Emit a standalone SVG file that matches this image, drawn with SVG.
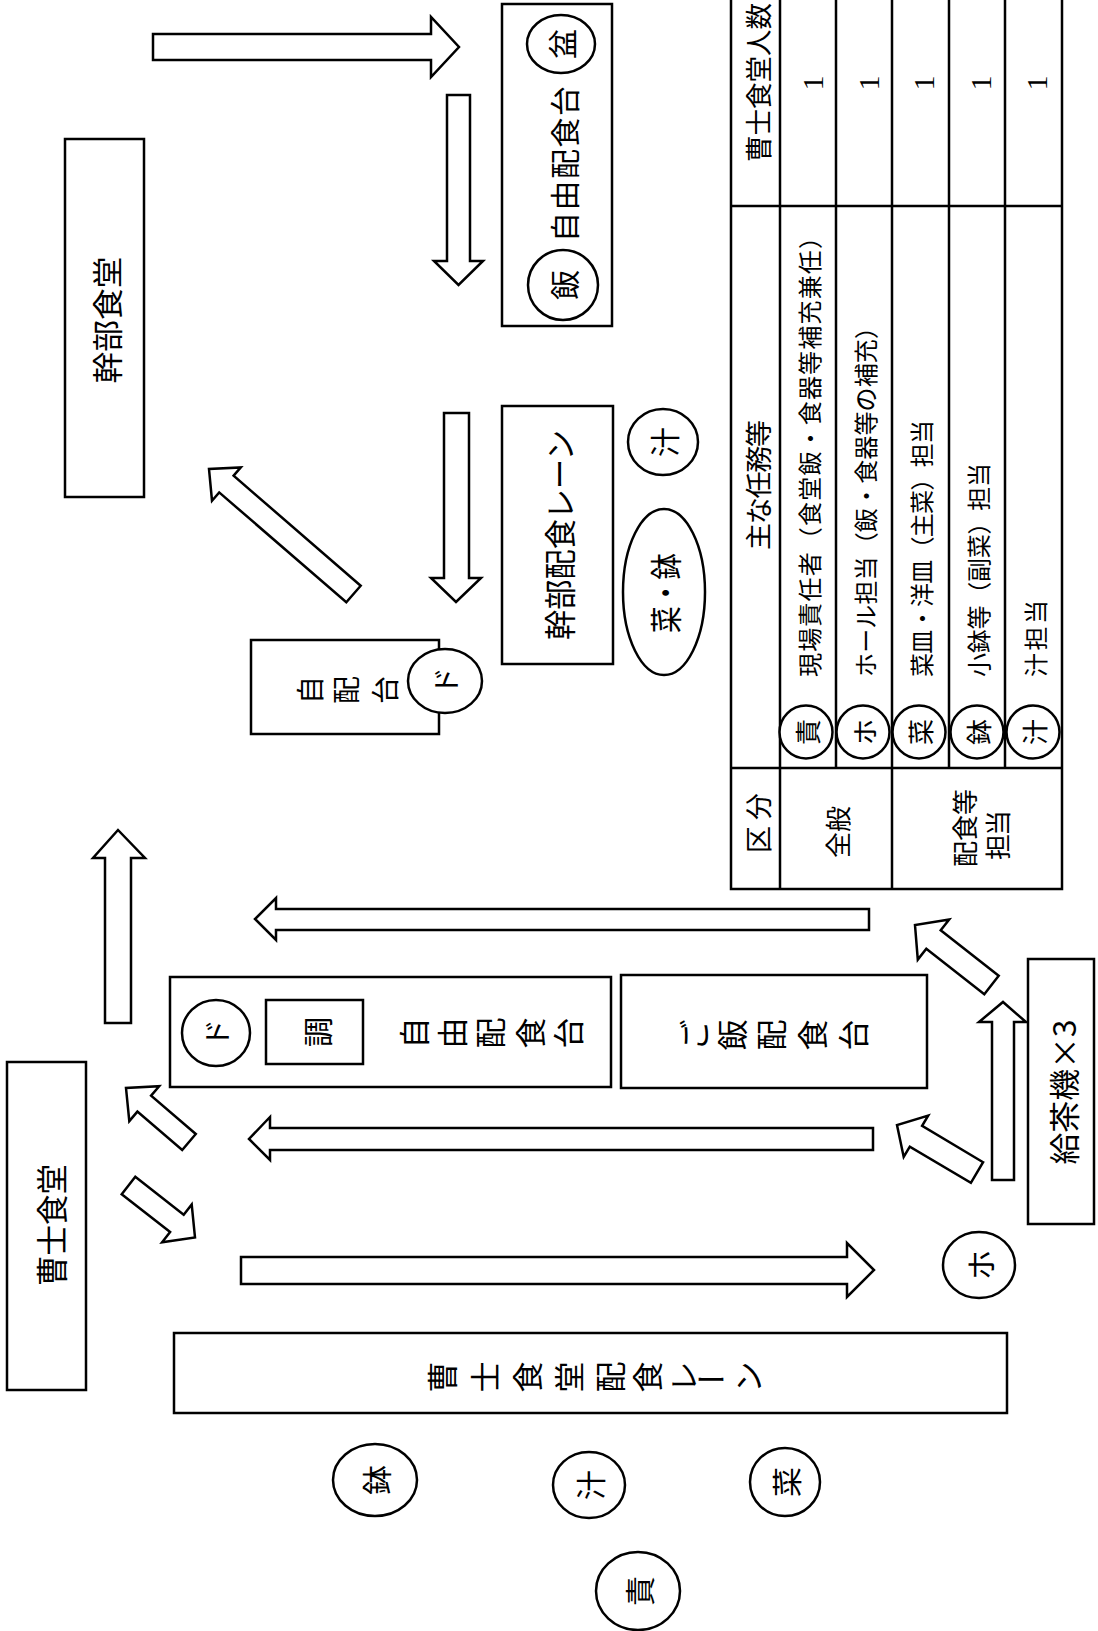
<svg xmlns="http://www.w3.org/2000/svg" width="1098" height="1631" viewBox="0 0 1098 1631">
<style>
.bg{fill:#fff}
.box{fill:#fff;stroke:#000;stroke-width:2.5}
.ln{fill:none;stroke:#000;stroke-width:2.5}
.arr{fill:#fff;stroke:#000;stroke-width:2.5;stroke-linejoin:miter}
.t{font-family:"Noto Sans CJK JP","Noto Sans CJK SC",sans-serif;fill:#000;text-anchor:middle;dominant-baseline:central}
.ts{font-family:"Noto Sans CJK JP","Noto Sans CJK SC",sans-serif;fill:#000;text-anchor:start;dominant-baseline:central}
.num{font-family:"Liberation Serif",serif;fill:#000;text-anchor:middle;dominant-baseline:central;font-size:30px}
</style>
<rect class="bg" x="0" y="0" width="1098" height="1631"/>

<g id="connectors">
  <polygon class="arr" points="153,34 431,34 431,17 459,47 431,77 431,60 153,60"/>
  <polygon class="arr" points="447,95 470,95 470,261 483,261 458.5,285 434,261 447,261"/>
  <polygon class="arr" points="444,413 469,413 469,578 481,578 456,602 431,578 444,578"/>
  <polygon class="arr" points="360.7,585.7 233.6,475.7 240.8,467.4 209,469 212,500.7 219.2,492.4 346.3,602.3"/>
  <polygon class="arr" points="105,1023 105,858 93,858 118,830 145,858 131,858 131,1023"/>
  <polygon class="arr" points="869,909 276,909 276,898 255,919 276,940 276,930 869,930"/>
  <polygon class="arr" points="873,1128 270,1128 270,1117 249,1139 270,1160 270,1150 873,1150"/>
  <polygon class="arr" points="241,1257 847,1257 847,1243 874,1270 847,1297 847,1284 241,1284"/>
  <polygon class="arr" points="195.8,1134 151.1,1095.7 159.2,1086.2 126,1088 129.3,1121.1 137.4,1111.6 182.2,1150"/>
  <polygon class="arr" points="121.7,1194.2 170.1,1232 162.1,1242.2 195,1237.5 191.7,1204.4 183.7,1214.7 135.3,1176.8"/>
  <polygon class="arr" points="998.7,975.8 940.7,930.3 949.2,919.4 915,925 917.8,959.6 926.3,948.7 984.3,994.2"/>
  <polygon class="arr" points="983.1,1162.2 922.1,1125.9 928.2,1115.6 897,1125 903.7,1156.9 909.8,1146.6 970.9,1182.8"/>
  <polygon class="arr" points="992,1180 992,1022 979,1022 1003,1002 1026,1022 1014,1022 1014,1180"/>
</g>

<g id="kanbu-shokudo">
  <rect class="box" x="65" y="139" width="79" height="358"/>
  <text class="t" transform="translate(105,320) rotate(-90)" font-size="31" textLength="127" lengthAdjust="spacingAndGlyphs">幹部食堂</text>
</g>

<g id="jiyu-haishokudai-top">
  <rect class="box" x="502" y="4" width="110" height="322"/>
  <ellipse class="box" cx="561" cy="44" rx="34" ry="29"/>
  <text class="t" transform="translate(561,44) rotate(-90)" font-size="30">盆</text>
  <ellipse class="box" cx="563" cy="285" rx="35" ry="35"/>
  <text class="t" transform="translate(563,285) rotate(-90)" font-size="30">飯</text>
  <text class="t" transform="translate(563,164) rotate(-90)" font-size="30" textLength="156" lengthAdjust="spacing">自由配食台</text>
</g>

<g id="kanbu-lane">
  <rect class="box" x="502" y="406" width="111" height="258"/>
  <text class="t" transform="translate(558,535) rotate(-90)" font-size="32" textLength="210" lengthAdjust="spacingAndGlyphs">幹部配食レーン</text>
</g>

<g id="shiru-kanbu">
  <ellipse class="box" cx="663" cy="442" rx="35" ry="33"/>
  <text class="t" transform="translate(663,442) rotate(-90)" font-size="30">汁</text>
</g>

<g id="sai-hachi">
  <ellipse class="box" cx="664" cy="592" rx="41" ry="83"/>
  <text class="t" transform="translate(664,593) rotate(-90)" font-size="32" textLength="80" lengthAdjust="spacingAndGlyphs">菜・鉢</text>
</g>

<g id="jihaidai">
  <rect class="box" x="251" y="640" width="188" height="94"/>
  <ellipse class="box" cx="445" cy="681" rx="37" ry="32"/>
  <text class="t" transform="translate(445,681) rotate(-90)" font-size="28">ド</text>
  <text class="t" transform="translate(0,690) rotate(-90)" font-size="28" x="0 0 0" y="309 345 384">自配台</text>
</g>

<g id="jiyu-haishokudai-low">
  <rect class="box" x="170" y="977" width="441" height="110"/>
  <ellipse class="box" cx="216" cy="1033" rx="34" ry="33"/>
  <text class="t" transform="translate(216,1033) rotate(-90)" font-size="28">ド</text>
  <rect class="box" x="266" y="1000" width="97" height="64"/>
  <text class="t" transform="translate(316,1032) rotate(-90)" font-size="30">調</text>
  <text class="t" transform="translate(0,1033) rotate(-90)" font-size="31" x="0 0 0 0 0" y="412 450 488 528 566">自由配食台</text>
</g>

<g id="gohan-haishokudai">
  <rect class="box" x="621" y="975" width="306" height="113"/>
  <text class="t" transform="translate(0,1035) rotate(-90)" font-size="31" x="0 0 0 0 0" y="692 730 769 810 851">ご飯配食台</text>
</g>

<g id="kyuchaki">
  <rect class="box" x="1028" y="959" width="66" height="265"/>
  <text class="t" transform="translate(1062,1092) rotate(-90)" font-size="31" textLength="145" lengthAdjust="spacingAndGlyphs">給茶機×3</text>
</g>

<g id="ho-circle">
  <ellipse class="box" cx="979" cy="1265" rx="36" ry="33"/>
  <text class="t" transform="translate(979,1265) rotate(-90)" font-size="30">ホ</text>
</g>

<g id="soshi-shokudo">
  <rect class="box" x="7" y="1062" width="79" height="328"/>
  <text class="t" transform="translate(50,1225) rotate(-90)" font-size="32" textLength="122" lengthAdjust="spacingAndGlyphs">曹士食堂</text>
</g>

<g id="soshi-lane">
  <rect class="box" x="174" y="1333" width="833" height="80"/>
  <text class="t" transform="translate(0,1377) rotate(-90)" font-size="31" x="0 0 0 0 0 0 0" y="440 483 525 567 608 645 681">曹士食堂配食レ</text>
  <text class="t" x="711" y="1377" font-size="31">ー</text>
  <text class="t" transform="translate(746,1377) rotate(-90)" font-size="31">ン</text>
</g>

<g id="hachi-circle">
  <ellipse class="box" cx="375" cy="1480" rx="42" ry="36"/>
  <text class="t" transform="translate(375,1480) rotate(-90)" font-size="30">鉢</text>
</g>
<g id="shiru-circle">
  <ellipse class="box" cx="589" cy="1485" rx="36" ry="33"/>
  <text class="t" transform="translate(589,1485) rotate(-90)" font-size="30">汁</text>
</g>
<g id="sai-circle">
  <ellipse class="box" cx="785" cy="1482" rx="35" ry="34"/>
  <text class="t" transform="translate(785,1482) rotate(-90)" font-size="30">菜</text>
</g>
<g id="seki-circle">
  <ellipse class="box" cx="638" cy="1591" rx="42" ry="39"/>
  <text class="t" transform="translate(638,1591) rotate(-90)" font-size="30">責</text>
</g>

<g id="table">
  <rect class="ln" x="731" y="-10" width="331" height="899"/>
  <line class="ln" x1="780" y1="-10" x2="780" y2="889"/>
  <line class="ln" x1="836" y1="-10" x2="836" y2="768"/>
  <line class="ln" x1="892" y1="-10" x2="892" y2="889"/>
  <line class="ln" x1="949" y1="-10" x2="949" y2="768"/>
  <line class="ln" x1="1005" y1="-10" x2="1005" y2="768"/>
  <line class="ln" x1="731" y1="206" x2="1062" y2="206"/>
  <line class="ln" x1="731" y1="768" x2="1062" y2="768"/>

  <text class="ts" transform="translate(757,162) rotate(-90)" font-size="27" textLength="159" lengthAdjust="spacingAndGlyphs">曹士食堂人数</text>
  <text class="num" transform="translate(812,83) rotate(-90)">1</text>
  <text class="num" transform="translate(868,83) rotate(-90)">1</text>
  <text class="num" transform="translate(923,83) rotate(-90)">1</text>
  <text class="num" transform="translate(980,83) rotate(-90)">1</text>
  <text class="num" transform="translate(1036,83) rotate(-90)">1</text>

  <text class="t" transform="translate(757,485) rotate(-90)" font-size="27" textLength="130" lengthAdjust="spacing">主な任務等</text>
  <text class="ts" transform="translate(808,677) rotate(-90)" font-size="24" textLength="452" lengthAdjust="spacing">現場責任者（食堂飯・食器等補充兼任）</text>
  <text class="ts" transform="translate(864,677) rotate(-90)" font-size="24" textLength="362" lengthAdjust="spacing">ホール担当（飯・食器等の補充）</text>
  <text class="ts" transform="translate(920,677) rotate(-90)" font-size="24" textLength="257" lengthAdjust="spacing">菜皿・洋皿（主菜）担当</text>
  <text class="ts" transform="translate(977,677) rotate(-90)" font-size="24" textLength="214" lengthAdjust="spacing">小鉢等（副菜）担当</text>
  <text class="ts" transform="translate(1034,677) rotate(-90)" font-size="24" textLength="77" lengthAdjust="spacing">汁担当</text>

  <circle class="box" cx="806" cy="732" r="26.5"/>
  <text class="t" transform="translate(806,732) rotate(-90)" font-size="26">責</text>
  <circle class="box" cx="863" cy="732" r="26.5"/>
  <text class="t" transform="translate(863,732) rotate(-90)" font-size="26">ホ</text>
  <circle class="box" cx="919" cy="732" r="26.5"/>
  <text class="t" transform="translate(919,732) rotate(-90)" font-size="26">菜</text>
  <circle class="box" cx="977" cy="732" r="26.5"/>
  <text class="t" transform="translate(977,732) rotate(-90)" font-size="26">鉢</text>
  <circle class="box" cx="1033" cy="732" r="26.5"/>
  <text class="t" transform="translate(1033,732) rotate(-90)" font-size="26">汁</text>

  <text class="t" transform="translate(757,823) rotate(-90)" font-size="27" textLength="60" lengthAdjust="spacing">区分</text>
  <text class="t" transform="translate(836,832) rotate(-90)" font-size="26" textLength="52" lengthAdjust="spacing">全般</text>
  <text class="t" transform="translate(963,828) rotate(-90)" font-size="26" textLength="78" lengthAdjust="spacing">配食等</text>
  <text class="t" transform="translate(996,835) rotate(-90)" font-size="26" textLength="50" lengthAdjust="spacing">担当</text>
</g>
</svg>
